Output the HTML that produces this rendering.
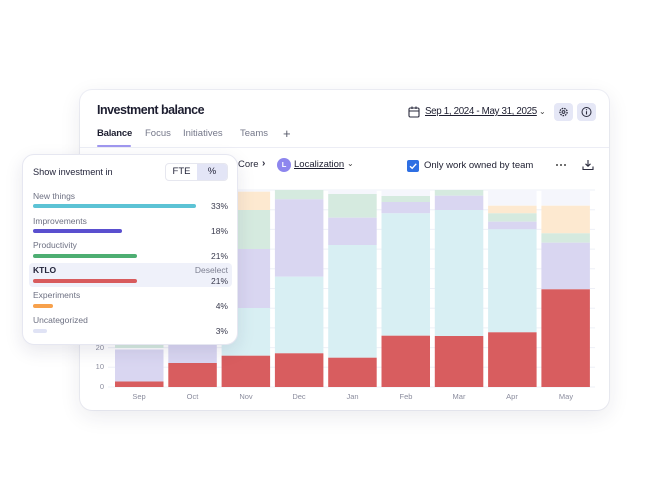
<!DOCTYPE html>
<html><head><meta charset="utf-8">
<style>
*{margin:0;padding:0;box-sizing:border-box}
html,body{width:650px;height:500px;background:#fff;overflow:hidden;font-family:"Liberation Sans",sans-serif;color:#23243a}
.a{position:absolute;white-space:nowrap}
.card{position:absolute;left:80px;top:90px;width:529px;height:320px;background:#fff;border-radius:12px;box-shadow:0 6px 22px rgba(30,30,70,0.09),0 0 0 1px rgba(230,232,242,0.6)}
.pop{position:absolute;left:22px;top:154px;width:216px;height:191px;background:#fff;border-radius:12px;border:1px solid #e6e7f1;box-shadow:0 6px 18px rgba(30,30,80,0.10)}
.lbl{font-size:8.5px;color:#6d7082;line-height:10px}
.pct{font-size:8.5px;color:#3a3b4e;line-height:10px;text-align:right}
.bar{position:absolute;height:4px;border-radius:2px}
.tab{font-size:9.5px;color:#747789;line-height:12px}
.xl{font-size:7.5px;color:#8a8c9d;line-height:9px;text-align:center;width:40px}
.yl{font-size:7.5px;color:#8a8c9d;line-height:9px;text-align:right;width:20px}
</style></head><body>
<div class="card"></div>

<!-- header -->
<div class="a" style="left:97px;top:103px;font-size:12.5px;font-weight:bold;letter-spacing:-0.5px;color:#1d1e30;line-height:15px">Investment balance</div>
<div class="a tab" style="left:97px;top:128px;color:#1d1e30;font-weight:bold;font-size:9.5px;letter-spacing:-0.2px">Balance</div>
<div class="a tab" style="left:145px;top:128px">Focus</div>
<div class="a tab" style="left:183px;top:128px">Initiatives</div>
<div class="a tab" style="left:240px;top:128px">Teams</div>
<div class="a" style="left:283px;top:126px;font-size:13px;color:#555868;line-height:15px">+</div>
<div class="a" style="left:80px;top:147px;width:529px;height:1px;background:#ecedf5"></div>
<div class="a" style="left:97px;top:145px;width:34px;height:2px;background:#9f97ef;border-radius:1px"></div>

<!-- date -->
<svg class="a" style="left:408px;top:106px" width="12" height="12" viewBox="0 0 12 12"><rect x="1" y="2" width="10" height="9" rx="1.2" fill="none" stroke="#2a2b3d" stroke-width="1.1"/><line x1="1" y1="5" x2="11" y2="5" stroke="#2a2b3d" stroke-width="1"/><line x1="4" y1="0.5" x2="4" y2="3" stroke="#2a2b3d" stroke-width="1.1"/><line x1="8" y1="0.5" x2="8" y2="3" stroke="#2a2b3d" stroke-width="1.1"/></svg>
<div class="a" style="left:425px;top:106px;font-size:9.8px;letter-spacing:-0.35px;color:#1d1e30;text-decoration:underline;line-height:12px">Sep 1, 2024 - May 31, 2025</div>
<div class="a" style="left:539px;top:106px;font-size:8px;color:#444;line-height:12px">&#8964;</div>
<div class="a" style="left:554px;top:103px;width:19px;height:18px;background:#e5e7f6;border-radius:4px"></div>
<svg class="a" style="left:557px;top:106px" width="13" height="12" viewBox="0 0 13 12"><circle cx="6.5" cy="6" r="3.6" fill="none" stroke="#2a2b3d" stroke-width="1.3" stroke-dasharray="1.6 0.9"/><circle cx="6.5" cy="6" r="1.4" fill="none" stroke="#2a2b3d" stroke-width="1"/></svg>
<div class="a" style="left:577px;top:103px;width:19px;height:18px;background:#e5e7f6;border-radius:4px"></div>
<svg class="a" style="left:580px;top:106px" width="13" height="12" viewBox="0 0 13 12"><circle cx="6.5" cy="6" r="4.5" fill="none" stroke="#2a2b3d" stroke-width="1"/><line x1="6.5" y1="5.2" x2="6.5" y2="8.5" stroke="#2a2b3d" stroke-width="1.1"/><circle cx="6.5" cy="3.7" r="0.6" fill="#2a2b3d"/></svg>

<!-- toolbar -->
<div class="a" style="left:238px;top:159px;font-size:9.5px;color:#2a2b3d;line-height:12px">Core</div>
<div class="a" style="left:262px;top:158px;font-size:10px;color:#2a2b3d;line-height:12px;font-weight:bold">›</div>
<div class="a" style="left:277px;top:158px;width:14px;height:14px;border-radius:7px;background:#8d86ee;color:#fff;font-size:7.5px;font-weight:bold;text-align:center;line-height:14px">L</div>
<div class="a" style="left:294px;top:159px;font-size:9.5px;color:#1d1e30;text-decoration:underline;line-height:12px">Localization</div>
<div class="a" style="left:347px;top:158px;font-size:8px;color:#444;line-height:12px">&#8964;</div>
<div class="a" style="left:407px;top:160px;width:12px;height:12px;background:#2e6fe3;border-radius:2px"></div>
<svg class="a" style="left:407px;top:160px" width="12" height="12" viewBox="0 0 12 12"><path d="M3 6.2 L5.2 8.3 L9.2 3.8" fill="none" stroke="#fff" stroke-width="1.4"/></svg>
<div class="a" style="left:424px;top:160px;font-size:9.5px;color:#1d1e30;line-height:12px">Only work owned by team</div>
<svg class="a" style="left:555px;top:163px" width="12" height="4" viewBox="0 0 12 4"><circle cx="2" cy="2" r="1" fill="#444"/><circle cx="6" cy="2" r="1" fill="#444"/><circle cx="10" cy="2" r="1" fill="#444"/></svg>
<svg class="a" style="left:582px;top:159px" width="12" height="12" viewBox="0 0 12 12"><path d="M6 1 V7 M3.5 4.8 L6 7.2 L8.5 4.8" fill="none" stroke="#2a2b3d" stroke-width="1.1"/><path d="M1 7.5 V10.5 H11 V7.5" fill="none" stroke="#2a2b3d" stroke-width="1.1"/></svg>

<!-- chart -->
<svg class="a" style="left:0;top:0" width="650" height="500" viewBox="0 0 650 500">
<g stroke="#eef0f7" stroke-width="1">
<line x1="108" y1="387" x2="595" y2="387"/><line x1="108" y1="367.3" x2="595" y2="367.3"/><line x1="108" y1="347.6" x2="595" y2="347.6"/><line x1="108" y1="327.9" x2="595" y2="327.9"/><line x1="108" y1="308.2" x2="595" y2="308.2"/><line x1="108" y1="288.5" x2="595" y2="288.5"/><line x1="108" y1="268.8" x2="595" y2="268.8"/><line x1="108" y1="249.1" x2="595" y2="249.1"/><line x1="108" y1="229.4" x2="595" y2="229.4"/><line x1="108" y1="209.7" x2="595" y2="209.7"/><line x1="108" y1="190" x2="595" y2="190"/>
</g>
<!-- Sep -->
<rect x="115" y="190" width="48.5" height="158" fill="#d5eadf"/>
<rect x="115" y="349.5" width="48.5" height="32" fill="#d9d6f1"/>
<rect x="115" y="381.5" width="48.5" height="5.5" fill="#d85d5f"/>
<!-- Oct -->
<rect x="168.3" y="190" width="48.5" height="173" fill="#d9d6f1"/>
<rect x="168.3" y="363" width="48.5" height="24" fill="#d85d5f"/>
<!-- Nov -->
<rect x="221.6" y="190" width="48.5" height="1.7" fill="#f5f6fc"/>
<rect x="221.6" y="191.7" width="48.5" height="18.3" fill="#fde9d0"/>
<rect x="221.6" y="210" width="48.5" height="39" fill="#d5eadf"/>
<rect x="221.6" y="249" width="48.5" height="59" fill="#d9d6f1"/>
<rect x="221.6" y="308" width="48.5" height="47.7" fill="#d8eff3"/>
<rect x="221.6" y="355.7" width="48.5" height="31.3" fill="#d85d5f"/>
<!-- Dec -->
<rect x="274.9" y="190" width="48.5" height="9.3" fill="#d5eadf"/>
<rect x="274.9" y="199.3" width="48.5" height="77.4" fill="#d9d6f1"/>
<rect x="274.9" y="276.7" width="48.5" height="76.6" fill="#d8eff3"/>
<rect x="274.9" y="353.3" width="48.5" height="33.7" fill="#d85d5f"/>
<!-- Jan -->
<rect x="328.2" y="190" width="48.5" height="4" fill="#f5f6fc"/>
<rect x="328.2" y="194" width="48.5" height="23.7" fill="#d5eadf"/>
<rect x="328.2" y="217.7" width="48.5" height="27.3" fill="#d9d6f1"/>
<rect x="328.2" y="245" width="48.5" height="112.7" fill="#d8eff3"/>
<rect x="328.2" y="357.7" width="48.5" height="29.3" fill="#d85d5f"/>
<!-- Feb -->
<rect x="381.5" y="190" width="48.5" height="6" fill="#f5f6fc"/>
<rect x="381.5" y="196" width="48.5" height="6" fill="#d5eadf"/>
<rect x="381.5" y="202" width="48.5" height="11.3" fill="#d9d6f1"/>
<rect x="381.5" y="213.3" width="48.5" height="122.4" fill="#d8eff3"/>
<rect x="381.5" y="335.7" width="48.5" height="51.3" fill="#d85d5f"/>
<!-- Mar -->
<rect x="434.8" y="190" width="48.5" height="5.7" fill="#d5eadf"/>
<rect x="434.8" y="195.7" width="48.5" height="14.3" fill="#d9d6f1"/>
<rect x="434.8" y="210" width="48.5" height="126" fill="#d8eff3"/>
<rect x="434.8" y="336" width="48.5" height="51" fill="#d85d5f"/>
<!-- Apr -->
<rect x="488.1" y="190" width="48.5" height="15.7" fill="#f5f6fc"/>
<rect x="488.1" y="205.7" width="48.5" height="7.6" fill="#fde9d0"/>
<rect x="488.1" y="213.3" width="48.5" height="8.4" fill="#d5eadf"/>
<rect x="488.1" y="221.7" width="48.5" height="7.6" fill="#d9d6f1"/>
<rect x="488.1" y="229.3" width="48.5" height="103" fill="#d8eff3"/>
<rect x="488.1" y="332.3" width="48.5" height="54.7" fill="#d85d5f"/>
<!-- May -->
<rect x="541.4" y="190" width="48.5" height="15.7" fill="#f5f6fc"/>
<rect x="541.4" y="205.7" width="48.5" height="27.6" fill="#fde9d0"/>
<rect x="541.4" y="233.3" width="48.5" height="9.4" fill="#d5eadf"/>
<rect x="541.4" y="242.7" width="48.5" height="46.6" fill="#d9d6f1"/>
<rect x="541.4" y="289.3" width="48.5" height="97.7" fill="#d85d5f"/>
</svg>

<div class="a yl" style="left:84px;top:382px">0</div>
<div class="a yl" style="left:84px;top:362px">10</div>
<div class="a yl" style="left:84px;top:343px">20</div>
<div class="a xl" style="left:119px;top:392px">Sep</div>
<div class="a xl" style="left:172.5px;top:392px">Oct</div>
<div class="a xl" style="left:226px;top:392px">Nov</div>
<div class="a xl" style="left:279px;top:392px">Dec</div>
<div class="a xl" style="left:332.5px;top:392px">Jan</div>
<div class="a xl" style="left:386px;top:392px">Feb</div>
<div class="a xl" style="left:439px;top:392px">Mar</div>
<div class="a xl" style="left:492px;top:392px">Apr</div>
<div class="a xl" style="left:546px;top:392px">May</div>

<!-- popup -->
<div class="pop"></div>
<div class="a" style="left:33px;top:166px;font-size:9.2px;color:#23243a;line-height:12px">Show investment in</div>
<div class="a" style="left:165px;top:163px;width:63px;height:18px;border:1px solid #e6e7ef;border-radius:4px;background:#fff"></div>
<div class="a" style="left:197px;top:164px;width:30px;height:16px;background:#e3e5f6;border-radius:0 3px 3px 0"></div>
<div class="a" style="left:166px;top:166px;width:31px;font-size:9.5px;color:#23243a;text-align:center;line-height:12px">FTE</div>
<div class="a" style="left:197px;top:166px;width:30px;font-size:9.5px;color:#23243a;text-align:center;line-height:12px">%</div>

<div class="a lbl" style="left:33px;top:191px">New things</div>
<div class="bar" style="left:33px;top:204px;width:163px;background:#5cc3d5"></div>
<div class="a pct" style="left:198px;top:201px;width:30px">33%</div>

<div class="a lbl" style="left:33px;top:216px">Improvements</div>
<div class="bar" style="left:33px;top:229px;width:89px;background:#5a4fcf"></div>
<div class="a pct" style="left:198px;top:226px;width:30px">18%</div>

<div class="a lbl" style="left:33px;top:240px">Productivity</div>
<div class="bar" style="left:33px;top:254px;width:104px;background:#4dae72"></div>
<div class="a pct" style="left:198px;top:251px;width:30px">21%</div>

<div class="a" style="left:29px;top:263px;width:203px;height:24px;background:#eff1fa;border-radius:4px"></div>
<div class="a" style="left:33px;top:265px;font-size:8.5px;font-weight:bold;color:#23243a;line-height:10px">KTLO</div>
<div class="a lbl" style="left:178px;top:265px;width:50px;text-align:right;color:#7c7f90">Deselect</div>
<div class="bar" style="left:33px;top:279px;width:104px;background:#d85b5d"></div>
<div class="a pct" style="left:198px;top:276px;width:30px">21%</div>

<div class="a lbl" style="left:33px;top:290px">Experiments</div>
<div class="bar" style="left:33px;top:304px;width:20px;background:#f7a14c"></div>
<div class="a pct" style="left:198px;top:301px;width:30px">4%</div>

<div class="a lbl" style="left:33px;top:315px">Uncategorized</div>
<div class="bar" style="left:33px;top:329px;width:14px;background:#e0e3f5"></div>
<div class="a pct" style="left:198px;top:326px;width:30px">3%</div>
</body></html>
